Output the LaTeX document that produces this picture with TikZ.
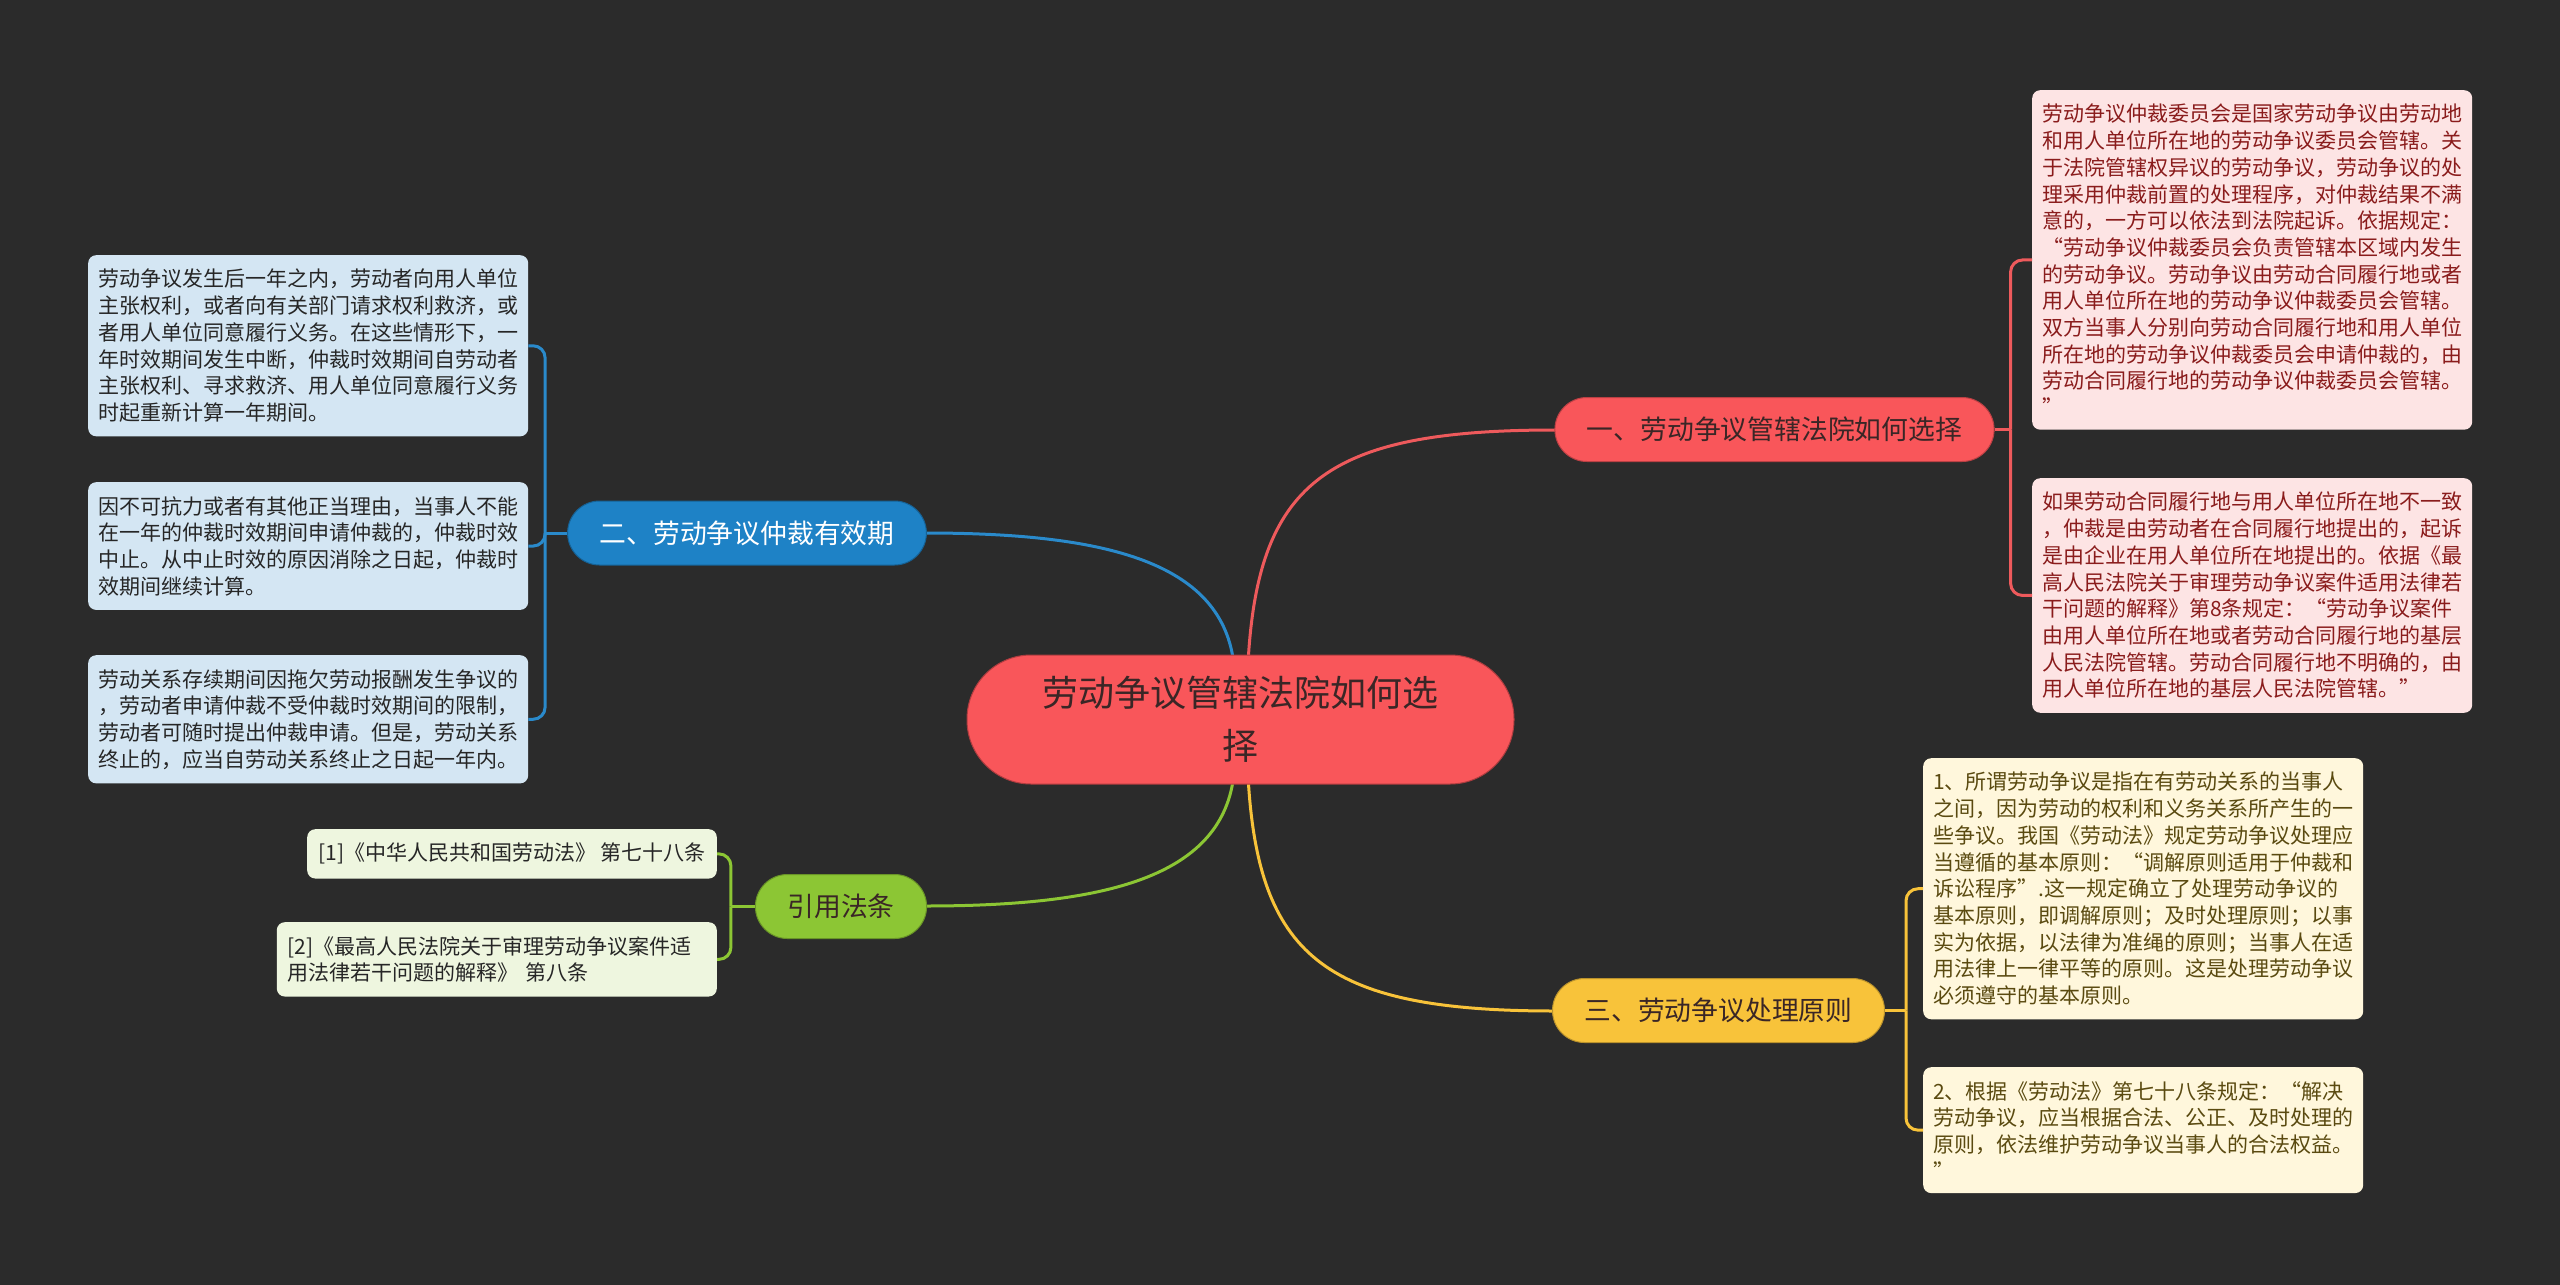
\documentclass[tikz,border=0pt]{standalone}
\usepackage{fontspec}
\newfontfamily\cjk{Noto Sans CJK SC}
\definecolor{bgdark}{HTML}{2B2B2B}
\definecolor{redmain}{HTML}{F9565A}
\definecolor{redline}{HTML}{EE5A5C}
\definecolor{redleaf}{HTML}{FDE4E4}
\definecolor{redtext}{HTML}{8A1C1C}
\definecolor{bluemain}{HTML}{1E82C6}
\definecolor{blueline}{HTML}{2A8ACB}
\definecolor{blueleaf}{HTML}{D4E6F3}
\definecolor{yellowmain}{HTML}{F8C33A}
\definecolor{yellowleaf}{HTML}{FFF7DC}
\definecolor{yellowtext}{HTML}{5A4A10}
\definecolor{greenmain}{HTML}{8CC634}
\definecolor{greenleaf}{HTML}{EEF6DF}
\definecolor{darktext}{HTML}{3A2626}
\tikzset{
	leaf/.style={rounded corners=8pt, inner xsep=10pt, inner ysep=14pt, align=left, font=\cjk\fontsize{21}{26.7}\selectfont},
	wideleaf/.style={leaf, text width=420pt},
	branch/.style={draw, line width=1pt, rounded corners=32pt, minimum height=64pt, inner xsep=32pt, font=\cjk\fontsize{26.8}{32}\selectfont},
	link/.style={line width=3pt},
	tie/.style={line width=3pt, rounded corners=12pt}
}
\begin{document}
\begin{tikzpicture}[x=1pt, y=-1pt]
	\fill[bgdark] (0,0) rectangle (2560,1285);
	\useasboundingbox (0,0) rectangle (2560,1285);
	\draw[link, redline] ([xshift=8pt]1240.5,655) .. controls (1260,480) and (1330,430) .. (1555,430);
	\draw[link, blueline] ([xshift=-8pt]1240.5,655) .. controls (1215,560) and (1100,533) .. (925,533);
	\draw[link, greenmain] ([xshift=-8pt]1240.5,784) .. controls (1215,879) and (1100,906) .. (925,906);
	\draw[link, yellowmain] ([xshift=8pt]1240.5,784) .. controls (1260,960) and (1330,1011) .. (1555,1011);
	\node[draw=redmain!70!black, line width=1pt, fill=redmain, text=darktext, rounded corners=64pt, minimum width=547pt, minimum height=129pt, align=center, font=\cjk\fontsize{36}{53}\selectfont] (c) at (1240.5,719.5) {劳动争议管辖法院如何选\\择};
	\node[branch, draw=redmain!75!black, fill=redmain, text=darktext] (b1) at (1774.5,429.5) {一、劳动争议管辖法院如何选择};
	\node[branch, draw=bluemain!75!black, fill=bluemain, text=white] (b2) at (747,533) {二、劳动争议仲裁有效期};
	\node[branch, draw=yellowmain!75!black, fill=yellowmain, text=darktext] (b3) at (1718.5,1010.5) {三、劳动争议处理原则};
	\node[branch, draw=greenmain!75!black, fill=greenmain, text=darktext, inner xsep=32pt] (b4) at (841,906.5) {引用法条};
	\node[wideleaf, fill=redleaf, text=redtext, anchor=north west] (l1a) at (2032,90) {劳动争议仲裁委员会是国家劳动争议由劳动地\\
和用人单位所在地的劳动争议委员会管辖。关\\
于法院管辖权异议的劳动争议，劳动争议的处\\
理采用仲裁前置的处理程序，对仲裁结果不满\\
意的，一方可以依法到法院起诉。依据规定：\\
“劳动争议仲裁委员会负责管辖本区域内发生\\
的劳动争议。劳动争议由劳动合同履行地或者\\
用人单位所在地的劳动争议仲裁委员会管辖。\\
双方当事人分别向劳动合同履行地和用人单位\\
所在地的劳动争议仲裁委员会申请仲裁的，由\\
劳动合同履行地的劳动争议仲裁委员会管辖。\\
”};
	\node[wideleaf, fill=redleaf, text=redtext, anchor=north west] (l1b) at (2032,478) {如果劳动合同履行地与用人单位所在地不一致\\
，仲裁是由劳动者在合同履行地提出的，起诉\\
是由企业在用人单位所在地提出的。依据《最\\
高人民法院关于审理劳动争议案件适用法律若\\
干问题的解释》第8条规定：“劳动争议案件\\
由用人单位所在地或者劳动合同履行地的基层\\
人民法院管辖。劳动合同履行地不明确的，由\\
用人单位所在地的基层人民法院管辖。”};
	\node[wideleaf, fill=yellowleaf, text=yellowtext, anchor=north west] (l3a) at (1923,758) {1、所谓劳动争议是指在有劳动关系的当事人\\
之间，因为劳动的权利和义务关系所产生的一\\
些争议。我国《劳动法》规定劳动争议处理应\\
当遵循的基本原则：“调解原则适用于仲裁和\\
诉讼程序”.这一规定确立了处理劳动争议的\\
基本原则，即调解原则；及时处理原则；以事\\
实为依据，以法律为准绳的原则；当事人在适\\
用法律上一律平等的原则。这是处理劳动争议\\
必须遵守的基本原则。};
	\node[wideleaf, fill=yellowleaf, text=yellowtext, anchor=north west] (l3b) at (1923,1067) {2、根据《劳动法》第七十八条规定：“解决\\
劳动争议，应当根据合法、公正、及时处理的\\
原则，依法维护劳动争议当事人的合法权益。\\
”};
	\node[wideleaf, fill=blueleaf, text=black!85, anchor=north west] (l2a) at (88,255) {劳动争议发生后一年之内，劳动者向用人单位\\
主张权利，或者向有关部门请求权利救济，或\\
者用人单位同意履行义务。在这些情形下，一\\
年时效期间发生中断，仲裁时效期间自劳动者\\
主张权利、寻求救济、用人单位同意履行义务\\
时起重新计算一年期间。};
	\node[wideleaf, fill=blueleaf, text=black!85, anchor=north west] (l2b) at (88,482) {因不可抗力或者有其他正当理由，当事人不能\\
在一年的仲裁时效期间申请仲裁的，仲裁时效\\
中止。从中止时效的原因消除之日起，仲裁时\\
效期间继续计算。};
	\node[wideleaf, fill=blueleaf, text=black!85, anchor=north west] (l2c) at (88,655) {劳动关系存续期间因拖欠劳动报酬发生争议的\\
，劳动者申请仲裁不受仲裁时效期间的限制，\\
劳动者可随时提出仲裁申请。但是，劳动关系\\
终止的，应当自劳动关系终止之日起一年内。};
	\node[leaf, fill=greenleaf, text=black!85, anchor=north east, inner xsep=11pt] (l4a) at (717,829) {[1]《中华人民共和国劳动法》 第七十八条};
	\node[leaf, fill=greenleaf, text=black!85, anchor=north east, inner xsep=11pt, text width=418pt] (l4b) at (717,922) {[2]《最高人民法院关于审理劳动争议案件适\\用法律若干问题的解释》 第八条};
	\coordinate (j1) at ([xshift=16pt]b1.east);
	\coordinate (j2) at ([xshift=-22pt]b2.west);
	\coordinate (j3) at ([xshift=21pt]b3.east);
	\coordinate (j4) at ([xshift=-24pt]b4.west);
	\draw[link, redline] (b1.east) -- (j1);
	\draw[tie, redline] (j1) |- (l1a.west);
	\draw[tie, redline] (j1) |- (l1b.west);
	\draw[link, blueline] (b2.west) -- (j2);
	\draw[tie, blueline] (j2) |- (l2a.east);
	\draw[tie, blueline] (j2) |- (l2b.east);
	\draw[tie, blueline] (j2) |- (l2c.east);
	\draw[link, yellowmain] (b3.east) -- (j3);
	\draw[tie, yellowmain] (j3) |- (l3a.west);
	\draw[tie, yellowmain] (j3) |- (l3b.west);
	\draw[link, greenmain] (b4.west) -- (j4);
	\draw[tie, greenmain] (j4) |- (l4a.east);
	\draw[tie, greenmain] (j4) |- (l4b.east);
\end{tikzpicture}
\end{document}
